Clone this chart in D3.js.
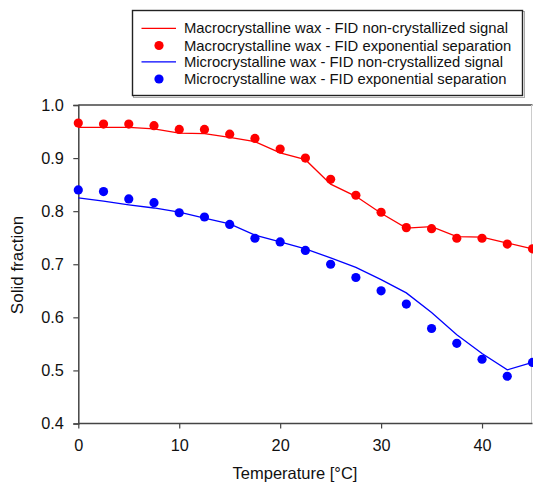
<!DOCTYPE html>
<html><head><meta charset="utf-8">
<script src="https://cdn.jsdelivr.net/npm/d3@7"></script>
<style>body{margin:0;background:#fff}svg{display:block;font-family:"Liberation Sans",Arial,sans-serif}</style>
</head><body>
<script>
const temps = [0,2.5,5,7.5,10,12.5,15,17.5,20,22.5,25,27.5,30,32.5,35,37.5,40,42.5,45];
const macroLine = [0.958,0.958,0.958,0.955,0.947,0.946,0.939,0.931,0.910,0.897,0.851,0.828,0.796,0.768,0.771,0.752,0.751,0.740,0.729];
const macroDots = [0.966,0.964,0.964,0.961,0.954,0.954,0.945,0.937,0.917,0.900,0.860,0.830,0.798,0.769,0.767,0.749,0.749,0.738,0.729];
const microLine = [0.825,0.819,0.812,0.806,0.798,0.787,0.776,0.755,0.742,0.729,0.712,0.694,0.671,0.646,0.609,0.567,0.532,0.501,0.515];
const microDots = [0.840,0.837,0.823,0.816,0.797,0.789,0.775,0.749,0.742,0.726,0.700,0.675,0.650,0.625,0.579,0.551,0.521,0.489,0.515];
const xTicks = [0,10,20,30,40];
const yTicks = [0.4,0.5,0.6,0.7,0.8,0.9,1.0];
const legendLabels = [
  "Macrocrystalline wax - FID non-crystallized signal",
  "Macrocrystalline wax - FID exponential separation",
  "Microcrystalline wax - FID non-crystallized signal",
  "Microcrystalline wax - FID exponential separation"
];
const RED = "#ff0000", BLUE = "#0000ff";

const W = 533, H = 486;
const svg = d3.select("body").append("svg").attr("width", W).attr("height", H);
const x = d3.scaleLinear().domain([0,45]).range([78.3,532.5]);
const y = d3.scaleLinear().domain([0.4,1.0]).range([423.5,105]);

// frame top/right
svg.append("line").attr("x1",x(0)).attr("x2",x(45)).attr("y1",y(1)).attr("y2",y(1))
  .attr("stroke","#444").attr("stroke-width",1.5);
svg.append("line").attr("x1",531.5).attr("x2",531.5).attr("y1",y(1)).attr("y2",y(0.4))
  .attr("stroke","#ccc").attr("stroke-width",1);

const xa = svg.append("g").attr("transform",`translate(0,${y(0.4)})`)
  .call(d3.axisBottom(x).tickValues(xTicks).tickFormat(d3.format("d")).tickSizeOuter(0).tickSize(5).tickPadding(11));
const ya = svg.append("g").attr("transform",`translate(${x(0)},0)`)
  .call(d3.axisLeft(y).tickValues(yTicks).tickFormat(d3.format(".1f")).tickSizeOuter(0).tickSize(5).tickPadding(9.5));
[xa,ya].forEach(g=>{
  g.select(".domain").attr("stroke","#444").attr("stroke-width",1.5);
  g.selectAll(".tick line").attr("stroke","#444").attr("stroke-width",1.2);
  g.selectAll(".tick text").attr("fill","#111").style("font-size","16.3px").style("font-family","'Liberation Sans',Arial,sans-serif");
});
xa.select(".domain").attr("d",`M${x(0)},0H${x(45)}`);

const line = d3.line().x((d,i)=>x(temps[i])).y(d=>y(d));
svg.append("path").datum(macroLine).attr("d",line).attr("fill","none").attr("stroke",RED).attr("stroke-width",1.3);
svg.append("path").datum(microLine).attr("d",line).attr("fill","none").attr("stroke",BLUE).attr("stroke-width",1.3);
svg.append("g").selectAll("circle").data(macroDots).join("circle")
  .attr("cx",(d,i)=>x(temps[i])).attr("cy",d=>y(d)).attr("r",4.6).attr("fill",RED);
svg.append("g").selectAll("circle").data(microDots).join("circle")
  .attr("cx",(d,i)=>x(temps[i])).attr("cy",d=>y(d)).attr("r",4.6).attr("fill",BLUE);

// axis titles
svg.append("text").attr("x",295).attr("y",479).attr("text-anchor","middle")
  .style("font-size","16.5px").attr("fill","#111").text("Temperature [°C]");
svg.append("text").attr("transform","translate(23,265) rotate(-90)").attr("text-anchor","middle")
  .style("font-size","17px").attr("fill","#111").text("Solid fraction");

// legend
const lg = svg.append("g");
lg.append("rect").attr("x",133.5).attr("y",11.5).attr("width",391).attr("height",86)
  .attr("fill","none").attr("stroke","#aaa").attr("stroke-width",1);
lg.append("rect").attr("x",132.5).attr("y",10.5).attr("width",390).attr("height",85)
  .attr("fill","#fff").attr("stroke","#222").attr("stroke-width",1.4);
const rowsY = [28.3,45.5,61.8,79];
const colors = [RED,RED,BLUE,BLUE];
legendLabels.forEach((t,i)=>{
  if(i%2===0){
    lg.append("line").attr("x1",141.5).attr("x2",176).attr("y1",rowsY[i]).attr("y2",rowsY[i])
      .attr("stroke",colors[i]).attr("stroke-width",1.3);
  } else {
    lg.append("circle").attr("cx",159).attr("cy",rowsY[i]).attr("r",4.6).attr("fill",colors[i]);
  }
  lg.append("text").attr("x",184).attr("y",rowsY[i]+5).style("font-size","14.8px").attr("fill","#111").text(t);
});
</script>
</body></html>
